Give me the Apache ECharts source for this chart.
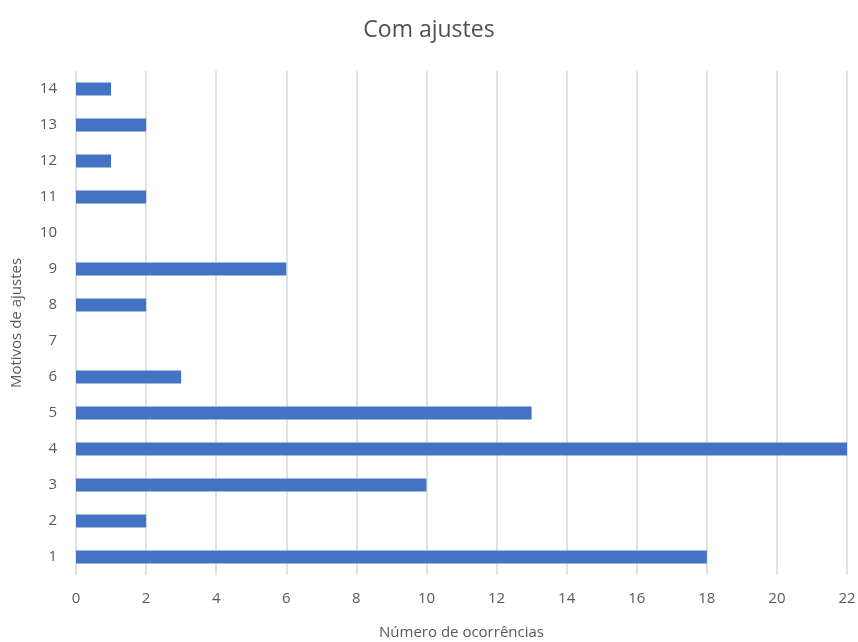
<!DOCTYPE html>
<html>
<head>
<meta charset="utf-8">
<script src="https://cdn.jsdelivr.net/npm/echarts@6/dist/echarts.min.js"></script>
<style>
  html, body { margin: 0; padding: 0; background: #fff; }
  #chart { width: 858px; height: 642px; }
</style>
</head>
<body>
<div id="chart"></div>
<script>
// Reasons for adjustments (category axis) and their occurrence counts
const motivos = ['1', '2', '3', '4', '5', '6', '7', '8', '9', '10', '11', '12', '13', '14'];
const ocorrencias = [18, 2, 10, 22, 13, 3, 0, 2, 6, 0, 2, 1, 2, 1];
const xTicks = { min: 0, max: 22, interval: 2 };

const FONT = '"Open Sans", "Noto Sans", sans-serif';
const chart = echarts.init(document.getElementById('chart'));

chart.setOption({
  animation: false,
  backgroundColor: '#ffffff',
  title: {
    text: 'Com ajustes',
    left: 'center',
    top: 14,
    textStyle: { fontFamily: FONT, fontSize: 23, fontWeight: 'normal', color: '#505050' }
  },
  grid: { left: 76, right: 11, top: 71, bottom: 67, containLabel: false, outerBoundsMode: 'none' },
  xAxis: {
    type: 'value',
    min: xTicks.min,
    max: xTicks.max,
    interval: xTicks.interval,
    name: 'Número de ocorrências',
    nameLocation: 'middle',
    nameGap: 50,
    nameTextStyle: { fontFamily: FONT, fontSize: 15, color: '#595959' },
    axisLine: { show: false },
    axisTick: { show: false },
    axisLabel: { fontFamily: FONT, fontSize: 15, color: '#595959', margin: 16 },
    splitLine: { show: true, lineStyle: { color: '#d9d9d9', width: 1.5 } }
  },
  yAxis: {
    type: 'category',
    data: motivos,
    name: 'Motivos de ajustes',
    nameLocation: 'middle',
    nameGap: 52,
    nameTextStyle: { fontFamily: FONT, fontSize: 15, color: '#595959' },
    axisLine: { show: false },
    axisTick: { show: false },
    axisLabel: { fontFamily: FONT, fontSize: 15, color: '#595959', margin: 19 }
  },
  series: [{
    type: 'bar',
    data: ocorrencias,
    barWidth: 13,
    itemStyle: { color: '#4472c4' }
  }]
});
</script>
</body>
</html>
